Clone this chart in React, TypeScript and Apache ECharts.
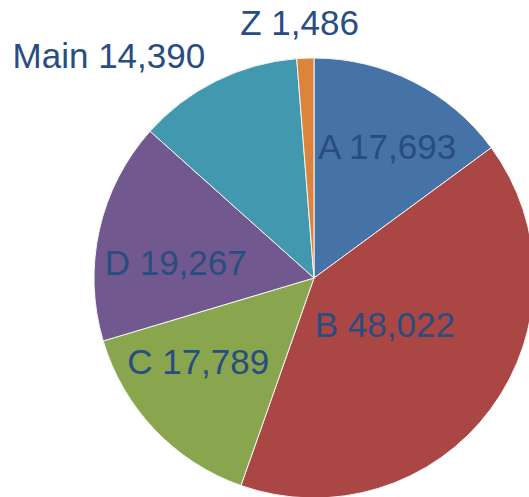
import React, { useEffect, useRef } from "react";
import * as echarts from "echarts";

const categories = ["A", "B", "C", "D", "Main", "Z"];
const values = [17693, 48022, 17789, 19267, 14390, 1486];
const colors = ["#4572A7", "#AA4643", "#89A54E", "#71588F", "#4198AF", "#DB843D"];
// label nudges (style), relative to the default inside label position
const labelOffsets: [number, number][] = [
  [22, -31],
  [-20, -21],
  [-34, 6],
  [-28, 9],
  [-155, -121],
  [-10, -143],
];

export default function App() {
  const ref = useRef<HTMLDivElement>(null);
  useEffect(() => {
    if (!ref.current) return;
    const chart = echarts.init(ref.current, undefined, { renderer: "svg" });
    chart.setOption({
      animation: false,
      backgroundColor: "#ffffff",
      series: [
        {
          type: "pie",
          center: [314, 278],
          radius: [0, 220],
          startAngle: 90,
          clockwise: true,
          avoidLabelOverlap: false,
          silent: true,
          emphasis: { disabled: true },
          itemStyle: { borderColor: "#f4f4f4", borderWidth: 1 },
          labelLine: { show: false },
          label: {
            show: true,
            position: "inside",
            color: "#284d80",
            fontFamily: "Liberation Sans, Arial, sans-serif",
            fontSize: 35,
            formatter: (p: any) => `${p.name} ${Number(p.value).toLocaleString("en-US")}`,
          },
          data: categories.map((name, i) => ({
            name,
            value: values[i],
            itemStyle: { color: colors[i] },
            label: { offset: labelOffsets[i] },
          })),
        },
      ],
    });
    return () => chart.dispose();
  }, []);
  return (
    <div
      ref={ref}
      style={{ position: "fixed", left: 0, top: 0, width: 529, height: 497 }}
    />
  );
}
